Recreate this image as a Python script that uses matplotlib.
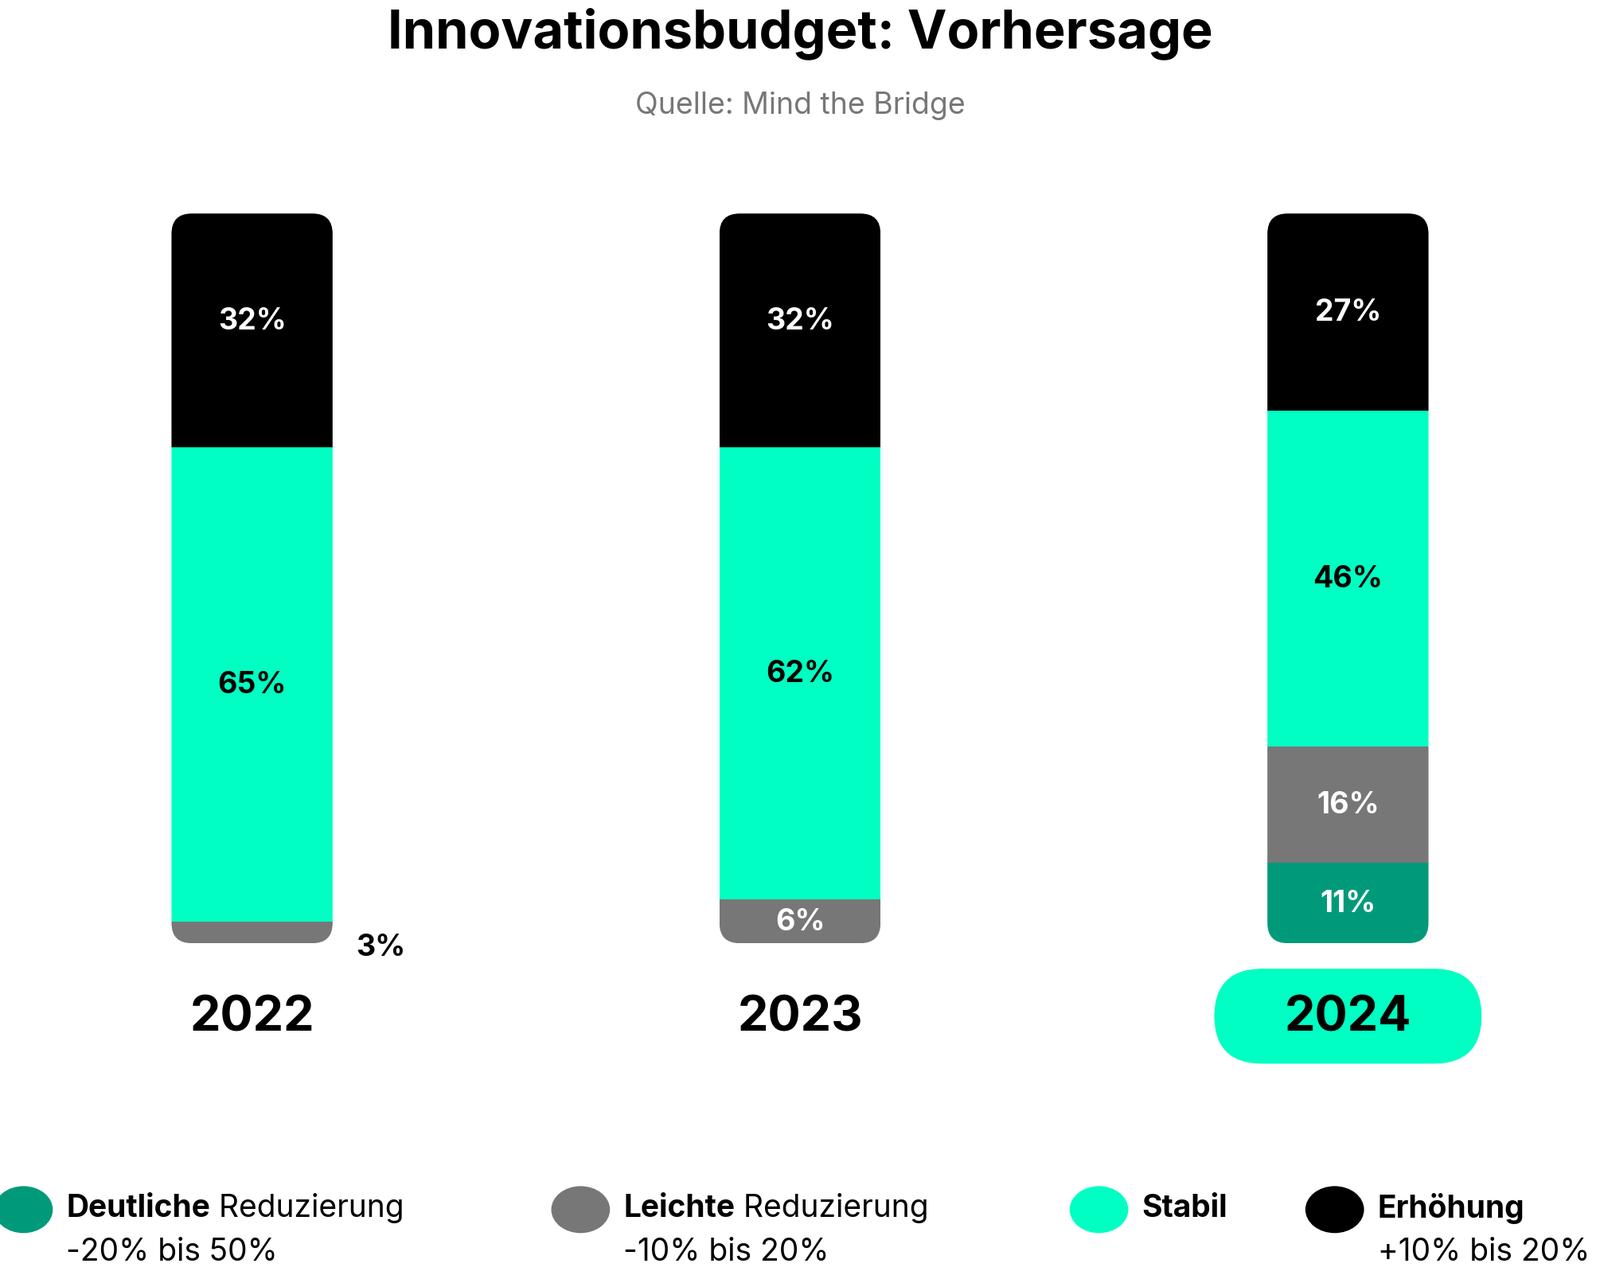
import matplotlib
matplotlib.use("Agg")
import matplotlib.pyplot as plt
from matplotlib.patches import FancyBboxPatch, Circle

years = ["2022", "2023", "2024"]
deutlich = [0, 0, 11]
leicht = [3, 6, 16]
stabil = [65, 62, 46]
erhoehung = [32, 32, 27]

C_DEUT = "#009A7A"
C_LEICHT = "#777777"
C_STAB = "#00FFC2"
C_ERH = "#000000"
FONT = "Inter"

W, H = 1568, 1254
fig = plt.figure(figsize=(20.1, 16.08), dpi=100)
fx = lambda x: x / W
fy = lambda y: 1 - y / H

ax = fig.add_axes([0, fy(925), 1, (925 - 210) / H])
ax.set_xlim(-0.46, 2.46)
ax.set_ylim(0, 100)
ax.axis("off")
bw = 0.294
xs = list(range(len(years)))

series = [(deutlich, C_DEUT, "white"), (leicht, C_LEICHT, "white"),
          (stabil, C_STAB, "black"), (erhoehung, C_ERH, "white")]
for i in xs:
    clip = FancyBboxPatch((i - bw / 2, 0), bw, 100,
                          boxstyle="round,pad=0,rounding_size=0.037",
                          mutation_aspect=75, transform=ax.transData,
                          facecolor="none", edgecolor="none")
    ax.add_patch(clip)
    bottom = 0
    for vals, col, tc in series:
        v = vals[i]
        if v > 0:
            b = ax.bar(i, v, bw, bottom=bottom, color=col, linewidth=0)
            for p in b:
                p.set_clip_path(clip)
            if v >= 5:
                yy = bottom + v / 2 + (1.2 if col == C_ERH and i < 2 else 0)
                if col == C_ERH:
                    yy = bottom + v / 2 + (1.3 if i < 2 else 0)
                ax.text(i, yy, f"{v}%", ha="center", va="center", color=tc,
                        fontsize=27, fontweight="bold", family=FONT)
            else:
                ax.text(i + 0.235, bottom + v / 2 - 2, f"{v}%", ha="center",
                        va="center", color="black", fontsize=27,
                        fontweight="bold", family=FONT)
        bottom += v

# Year labels
for i, y in enumerate(years):
    xc = 247 + i * 537
    if i == 2:
        hb = FancyBboxPatch((fx(1190), fy(1043)), fx(1452) - fx(1190),
                            fy(950) - fy(1043),
                            boxstyle="round,pad=0,rounding_size=0.03",
                            mutation_aspect=1.25,
                            transform=fig.transFigure, facecolor=C_STAB,
                            edgecolor="none")
        fig.add_artist(hb)
    fig.text(fx(xc), fy(998), y, ha="center", va="center", fontsize=44,
             fontweight="bold", family=FONT)

fig.text(0.5, fy(33), "Innovationsbudget: Vorhersage", ha="center",
         va="center", fontsize=48, fontweight="bold", family=FONT)
fig.text(0.5, fy(104), "Quelle: Mind the Bridge", ha="center", va="center",
         fontsize=27, color="#777777", family=FONT)

legend = [(C_DEUT, 23, "Deutliche", " Reduzierung", "-20% bis 50%"),
          (C_LEICHT, 569, "Leichte", " Reduzierung", "-10% bis 20%"),
          (C_STAB, 1077, "Stabil", "", ""),
          (C_ERH, 1308, "Erhöhung", "", "+10% bis 20%")]
for col, cx, bold, rest, sub in legend:
    fig.add_artist(Circle((fx(cx), fy(1186)), 23 / H * 1.0,
                          transform=fig.transFigure, facecolor=col,
                          edgecolor="none"))
    t = fig.text(fx(cx + 42), fy(1184), bold, ha="left", va="center",
                 fontsize=28, fontweight="bold", family=FONT)
    if rest:
        from matplotlib import offsetbox
        fig.canvas.draw()
        bb = t.get_window_extent()
        fig.text(bb.x1 / fig.bbox.width, fy(1184), rest, ha="left",
                 va="center", fontsize=28, family=FONT)
    if sub:
        fig.text(fx(cx + 42), fy(1227), sub, ha="left", va="center",
                 fontsize=28, family=FONT)

fig.savefig("out.png", dpi=100)
